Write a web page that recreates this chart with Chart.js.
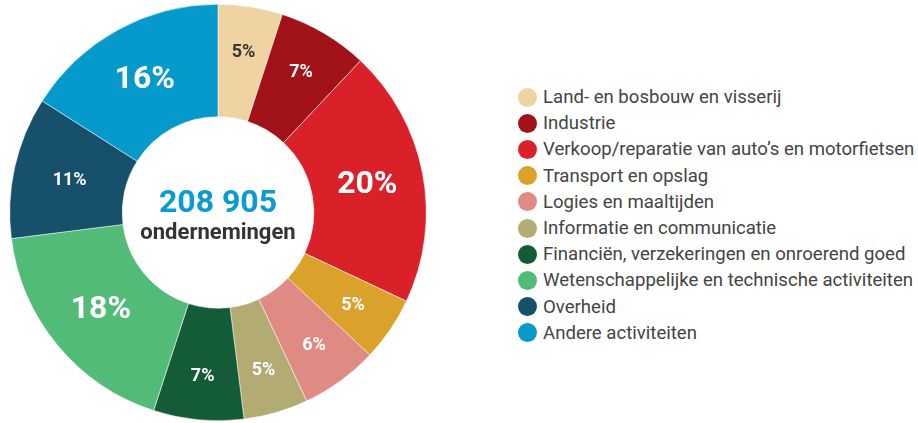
<!DOCTYPE html>
<html>
<head>
<meta charset="utf-8">
<script src="https://cdn.jsdelivr.net/npm/chart.js@4"></script>
<style>
  body { margin: 0; background: #fff; font-family: Roboto, sans-serif; }
  #wrap { position: relative; width: 918px; height: 423px; }
  #chartBox { position: absolute; left: 0; top: 0; width: 436px; height: 423px; }
  #legend { position: absolute; left: 518px; top: 84px; list-style: none; margin: 0; padding: 0; }
  #legend li { height: 26.2px; display: flex; align-items: center; font-size: 18.6px; color: #444; white-space: nowrap; }
  #legend span.dot { width: 19px; height: 19px; border-radius: 50%; margin-right: 6px; flex: none; }
</style>
</head>
<body>
<div id="wrap">
  <div id="chartBox"><canvas id="donut"></canvas></div>
  <ul id="legend"></ul>
</div>
<script>
// Data
const categories = [
    'Land- en bosbouw en visserij',
    'Industrie',
    'Verkoop/reparatie van auto’s en motorfietsen',
    'Transport en opslag',
    'Logies en maaltijden',
    'Informatie en communicatie',
    'Financiën, verzekeringen en onroerend goed',
    'Wetenschappelijke en technische activiteiten',
    'Overheid',
    'Andere activiteiten'
];
const shares = [5, 7, 20, 5, 6, 5, 7, 18, 11, 16];
const colors = ['#EFD3A3', '#A21219', '#DA2129', '#DAA22A', '#E08A84', '#B2AC73', '#145C38', '#52BB77', '#16506B', '#0699CB'];
const labelColors = ['#333333', '#fff', '#fff', '#fff', '#fff', '#fff', '#fff', '#fff', '#fff', '#fff'];
const totalLabel = '208 905';
const totalCaption = 'ondernemingen';

// Legend (HTML)
const legendEl = document.getElementById('legend');
categories.forEach((c, i) => {
    const li = document.createElement('li');
    li.innerHTML = `<span class="dot" style="background:${colors[i]}"></span>${c}`;
    legendEl.appendChild(li);
});

// Percent labels + center text
const sliceLabels = {
    id: 'sliceLabels',
    afterDatasetsDraw(chart) {
        const ctx = chart.ctx;
        const meta = chart.getDatasetMeta(0);
        ctx.save();
        ctx.textAlign = 'center';
        ctx.textBaseline = 'middle';
        meta.data.forEach((arc, i) => {
            const { x, y, startAngle, endAngle, innerRadius, outerRadius } = arc.getProps(['x', 'y', 'startAngle', 'endAngle', 'innerRadius', 'outerRadius']);
            const mid = (startAngle + endAngle) / 2;
            const big = shares[i] >= 16;
            // kleine segmenten: label iets verder naar buiten
            const f = shares[i] < 10 ? 0.6 : 0.5;
            const r = innerRadius + (outerRadius - innerRadius) * f;
            ctx.font = big ? 'bold 32px Roboto' : 'bold 18px Roboto';
            ctx.fillStyle = labelColors[i];
            ctx.fillText(shares[i] + '%', x + Math.cos(mid) * r, y + Math.sin(mid) * r + 1);
        });
        const cx = (chart.chartArea.left + chart.chartArea.right) / 2;
        const cy = (chart.chartArea.top + chart.chartArea.bottom) / 2;
        ctx.font = 'bold 32px Roboto';
        ctx.fillStyle = '#0A9CCF';
        ctx.fillText(totalLabel, cx, cy - 9);
        ctx.font = 'bold 22px Roboto';
        ctx.fillStyle = '#333333';
        ctx.fillText(totalCaption, cx, cy + 21);
        ctx.restore();
    }
};

new Chart(document.getElementById('donut'), {
    type: 'doughnut',
    data: {
        labels: categories,
        datasets: [{
            data: shares,
            backgroundColor: colors,
            borderColor: '#ffffff',
            borderWidth: 0.5
        }]
    },
    options: {
        responsive: true,
        maintainAspectRatio: false,
        animation: false,
        cutout: '46%',
        layout: { padding: { left: 9, right: 9, top: 4, bottom: 2 } },
        plugins: {
            legend: { display: false },
            tooltip: { enabled: false }
        }
    },
    plugins: [sliceLabels]
});
</script>
</body>
</html>
